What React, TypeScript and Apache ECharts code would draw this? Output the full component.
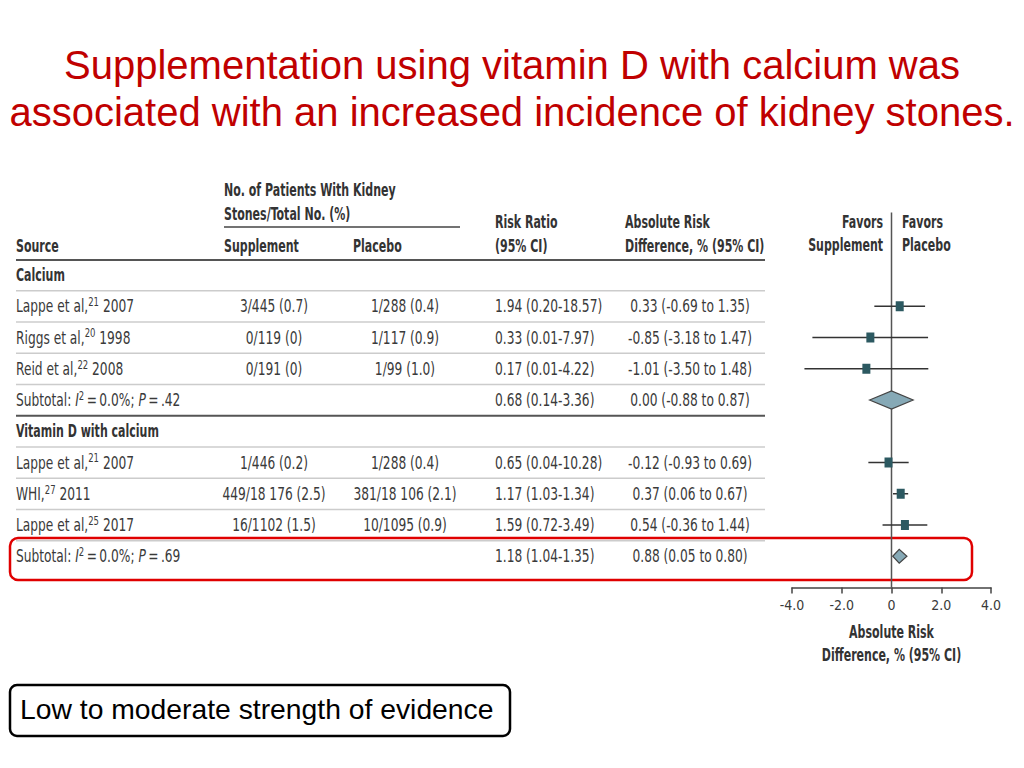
import React, { useEffect, useRef } from "react";
import * as echarts from "echarts";

// ---------- data ----------
const titleLines = [
  "Supplementation using vitamin D with calcium was",
  "associated with an increased incidence of kidney stones.",
];
const groupNames = ["Calcium", "Vitamin D with calcium"];
const studyNames = ["Lappe et al,", "Riggs et al,", "Reid et al,", "Lappe et al,", "WHI,", "Lappe et al,"];
const studyRefs = ["21", "20", "22", "21", "27", "25"];
const studyYears = ["2007", "1998", "2008", "2007", "2011", "2017"];
const studyGroup = [0, 0, 0, 1, 1, 1];
const supplementText = ["3/445 (0.7)", "0/119 (0)", "0/191 (0)", "1/446 (0.2)", "449/18 176 (2.5)", "16/1102 (1.5)"];
const placeboText = ["1/288 (0.4)", "1/117 (0.9)", "1/99 (1.0)", "1/288 (0.4)", "381/18 106 (2.1)", "10/1095 (0.9)"];
const riskRatioText = ["1.94 (0.20-18.57)", "0.33 (0.01-7.97)", "0.17 (0.01-4.22)", "0.65 (0.04-10.28)", "1.17 (1.03-1.34)", "1.59 (0.72-3.49)"];
const ardText = ["0.33 (-0.69 to 1.35)", "-0.85 (-3.18 to 1.47)", "-1.01 (-3.50 to 1.48)", "-0.12 (-0.93 to 0.69)", "0.37 (0.06 to 0.67)", "0.54 (-0.36 to 1.44)"];
const ardEstimate = [0.33, -0.85, -1.01, -0.12, 0.37, 0.54];
const ardLower = [-0.69, -3.18, -3.5, -0.93, 0.06, -0.36];
const ardUpper = [1.35, 1.47, 1.48, 0.69, 0.67, 1.44];
const subtotalI2 = ["0.0%", "0.0%"];
const subtotalP = [".42", ".69"];
const subtotalRRText = ["0.68 (0.14-3.36)", "1.18 (1.04-1.35)"];
const subtotalArdText = ["0.00 (-0.88 to 0.87)", "0.88 (0.05 to 0.80)"];
const subtotalEstimate = [0.0, 0.31];
const subtotalLower = [-0.88, 0.05];
const subtotalUpper = [0.87, 0.62];
const xTicks = [-4, -2, 0, 2, 4];
const axisTitleLines = ["Absolute Risk", "Difference, % (95% CI)"];
const evidenceText = "Low to moderate strength of evidence";

// ---------- styling ----------
const NARROW = '"DejaVu Sans Condensed", "Liberation Sans Narrow", sans-serif';
const ARIAL = '"Liberation Sans", Arial, sans-serif';
const TXT = "#3a3a3a";
const HDR = "#333333";
const FS = 18;
const SX = 0.755; // horizontal squeeze for body text
const HSX = 0.7; // horizontal squeeze for bold header text
const rowY = (r: number) => 275 + 31.25 * r;

const COL = { source: 16, supp: 274, plac: 405, rr: 495, ard: 690, tableRight: 765 };

function txt(x: number, y: number, text: string, align = "left", extra: any = {}, sx = SX) {
  return {
    type: "text",
    x,
    y,
    scaleX: sx,
    silent: true,
    style: {
      text,
      fill: TXT,
      fontSize: FS,
      fontFamily: NARROW,
      align,
      verticalAlign: "middle",
      ...extra,
    },
  };
}
function hdr(x: number, y: number, text: string, align = "left") {
  return txt(x, y, text, align, { fill: HDR, fontWeight: "bold", fontSize: 17.5 }, HSX);
}

const richStyles = {
  a: { fontSize: FS, fontFamily: NARROW, fill: TXT, lineHeight: 21 },
  i: { fontSize: FS, fontFamily: NARROW, fill: TXT, fontStyle: "italic", lineHeight: 21 },
  s: { fontSize: 12.5, fontFamily: NARROW, fill: TXT, lineHeight: 12, verticalAlign: "top" },
};

function hline(x1: number, x2: number, y: number, stroke: string, w: number) {
  return { type: "line", silent: true, shape: { x1, y1: y, x2, y2: y }, style: { stroke, lineWidth: w } };
}

function buildGraphics() {
  const g: any[] = [];
  // title
  titleLines.forEach((t, i) => {
    g.push({
      type: "text",
      x: 512,
      y: 65 + i * 47,
      silent: true,
      style: { text: t, fill: "#c00000", fontSize: 40, fontFamily: ARIAL, align: "center", verticalAlign: "middle" },
    });
  });
  // table header
  g.push(hdr(224, 190, "No. of Patients With Kidney"));
  g.push(hdr(224, 214, "Stones/Total No. (%)"));
  g.push(hline(224, 460, 227, "#444", 1.5));
  g.push(hdr(COL.source, 246, "Source"));
  g.push(hdr(224, 246, "Supplement"));
  g.push(hdr(353, 246, "Placebo"));
  g.push(hdr(COL.rr, 222, "Risk Ratio"));
  g.push(hdr(COL.rr, 246, "(95% CI)"));
  g.push(hdr(625, 222, "Absolute Risk"));
  g.push(hdr(625, 246, "Difference, % (95% CI)"));
  g.push(hline(16, COL.tableRight, 260, "#555", 2));
  g.push(hdr(883, 222, "Favors", "right"));
  g.push(hdr(883, 245, "Supplement", "right"));
  g.push(hdr(902, 222, "Favors"));
  g.push(hdr(902, 245, "Placebo"));
  // axis title
  axisTitleLines.forEach((t, i) => g.push(hdr(891.5, 632 + i * 23, t, "center")));

  // rows
  let r = 0;
  groupNames.forEach((gn, gi) => {
    g.push(hdr(COL.source, rowY(r), gn));
    g.push(hline(16, COL.tableRight, rowY(r + 0.5), "#cccccc", 1.5));
    r++;
    studyNames.forEach((nm, si) => {
      if (studyGroup[si] !== gi) return;
      const y = rowY(r);
      g.push({
        type: "text",
        x: COL.source,
        y,
        scaleX: SX,
        silent: true,
        style: {
          text: `{a|${nm}}{s|${studyRefs[si]}}{a| ${studyYears[si]}}`,
          rich: richStyles,
          align: "left",
          verticalAlign: "middle",
        },
      });
      g.push(txt(COL.supp, y, supplementText[si], "center"));
      g.push(txt(COL.plac, y, placeboText[si], "center"));
      g.push(txt(COL.rr, y, riskRatioText[si]));
      g.push(txt(COL.ard, y, ardText[si], "center"));
      g.push(hline(16, COL.tableRight, rowY(r + 0.5), "#cccccc", 1.5));
      r++;
    });
    const y = rowY(r);
    g.push({
      type: "text",
      x: COL.source,
      y,
      scaleX: SX,
      silent: true,
      style: {
        text: `{a|Subtotal: }{i|I}{s|2}{a|\u2009=\u2009${subtotalI2[gi]}; }{i|P}{a|\u2009=\u2009${subtotalP[gi]}}`,
        rich: richStyles,
        align: "left",
        verticalAlign: "middle",
      },
    });
    g.push(txt(COL.rr, y, subtotalRRText[gi]));
    g.push(txt(COL.ard, y, subtotalArdText[gi], "center"));
    if (gi === 0) g.push(hline(16, COL.tableRight, rowY(r + 0.5), "#555", 2));
    r++;
  });

  // red highlight box
  g.push({
    type: "rect",
    silent: true,
    shape: { x: 10, y: 538, width: 962, height: 42, r: 8 },
    style: { fill: "none", stroke: "#e00000", lineWidth: 2.5 },
  });
  // evidence box
  g.push({
    type: "rect",
    silent: true,
    shape: { x: 10, y: 685, width: 500, height: 51, r: 7 },
    style: { fill: "#ffffff", stroke: "#000000", lineWidth: 2.5 },
  });
  g.push({
    type: "text",
    x: 20,
    y: 709,
    silent: true,
    style: { text: evidenceText, fill: "#000", fontSize: 28.3, fontFamily: ARIAL, align: "left", verticalAlign: "middle" },
  });
  return g;
}

function buildForestData() {
  const data: any[] = [];
  let r = 0;
  groupNames.forEach((_, gi) => {
    r++;
    studyNames.forEach((_, si) => {
      if (studyGroup[si] !== gi) return;
      data.push([ardEstimate[si], ardLower[si], ardUpper[si], r, 0]);
      r++;
    });
    data.push([subtotalEstimate[gi], subtotalLower[gi], subtotalUpper[gi], r, 1]);
    r++;
  });
  return data;
}

export default function App() {
  const ref = useRef<HTMLDivElement>(null);
  useEffect(() => {
    if (!ref.current) return;
    const chart = echarts.init(ref.current, null, { renderer: "svg" });
    const forest = buildForestData();
    chart.setOption({
      animation: false,
      backgroundColor: "#ffffff",
      grid: { left: 792, right: 33, top: 212.5, bottom: 180.5, containLabel: false },
      xAxis: {
        type: "value",
        min: xTicks[0],
        max: xTicks[xTicks.length - 1],
        interval: 2,
        splitLine: { show: false },
        axisLine: { onZero: false, lineStyle: { color: "#444", width: 1.5 } },
        axisTick: { length: 6, lineStyle: { color: "#444", width: 1.5 } },
        axisLabel: {
          color: TXT,
          fontSize: 14,
          fontFamily: NARROW,
          margin: 10,
          formatter: (v: number) => (v === 0 ? "0" : v.toFixed(1)),
        },
      },
      yAxis: { type: "value", min: -2, max: 10, inverse: true, show: false },
      series: [
        {
          type: "line",
          data: [
            [0, -2],
            [0, 10],
          ],
          symbol: "none",
          lineStyle: { color: "#555", width: 1.5 },
          silent: true,
          z: 1,
        },
        {
          type: "custom",
          data: forest,
          encode: { x: [0, 1, 2], y: 3 },
          clip: false,
          z: 3,
          renderItem: (params: any, api: any) => {
            const row = api.value(3);
            const kind = api.value(4);
            const c = api.coord([api.value(0), row]);
            const lo = api.coord([api.value(1), row]);
            const hi = api.coord([api.value(2), row]);
            if (kind === 1) {
              const h = row < 5 ? 9 : 7;
              return {
                type: "polygon",
                shape: {
                  points: [
                    [lo[0], c[1]],
                    [c[0], c[1] - h],
                    [hi[0], c[1]],
                    [c[0], c[1] + h],
                  ],
                },
                style: { fill: "#86a9b6", stroke: "#444", lineWidth: 1.2 },
              };
            }
            return {
              type: "group",
              children: [
                {
                  type: "line",
                  shape: { x1: lo[0], y1: lo[1], x2: hi[0], y2: hi[1] },
                  style: { stroke: "#333", lineWidth: 1.5 },
                },
                {
                  type: "rect",
                  shape: { x: c[0] - 4, y: c[1] - 5, width: 8, height: 10 },
                  style: { fill: "#2c5961" },
                },
              ],
            };
          },
        },
      ],
      graphic: buildGraphics(),
    });
    return () => chart.dispose();
  }, []);
  return <div ref={ref} style={{ position: "absolute", left: 0, top: 0, width: 1024, height: 768 }} />;
}
